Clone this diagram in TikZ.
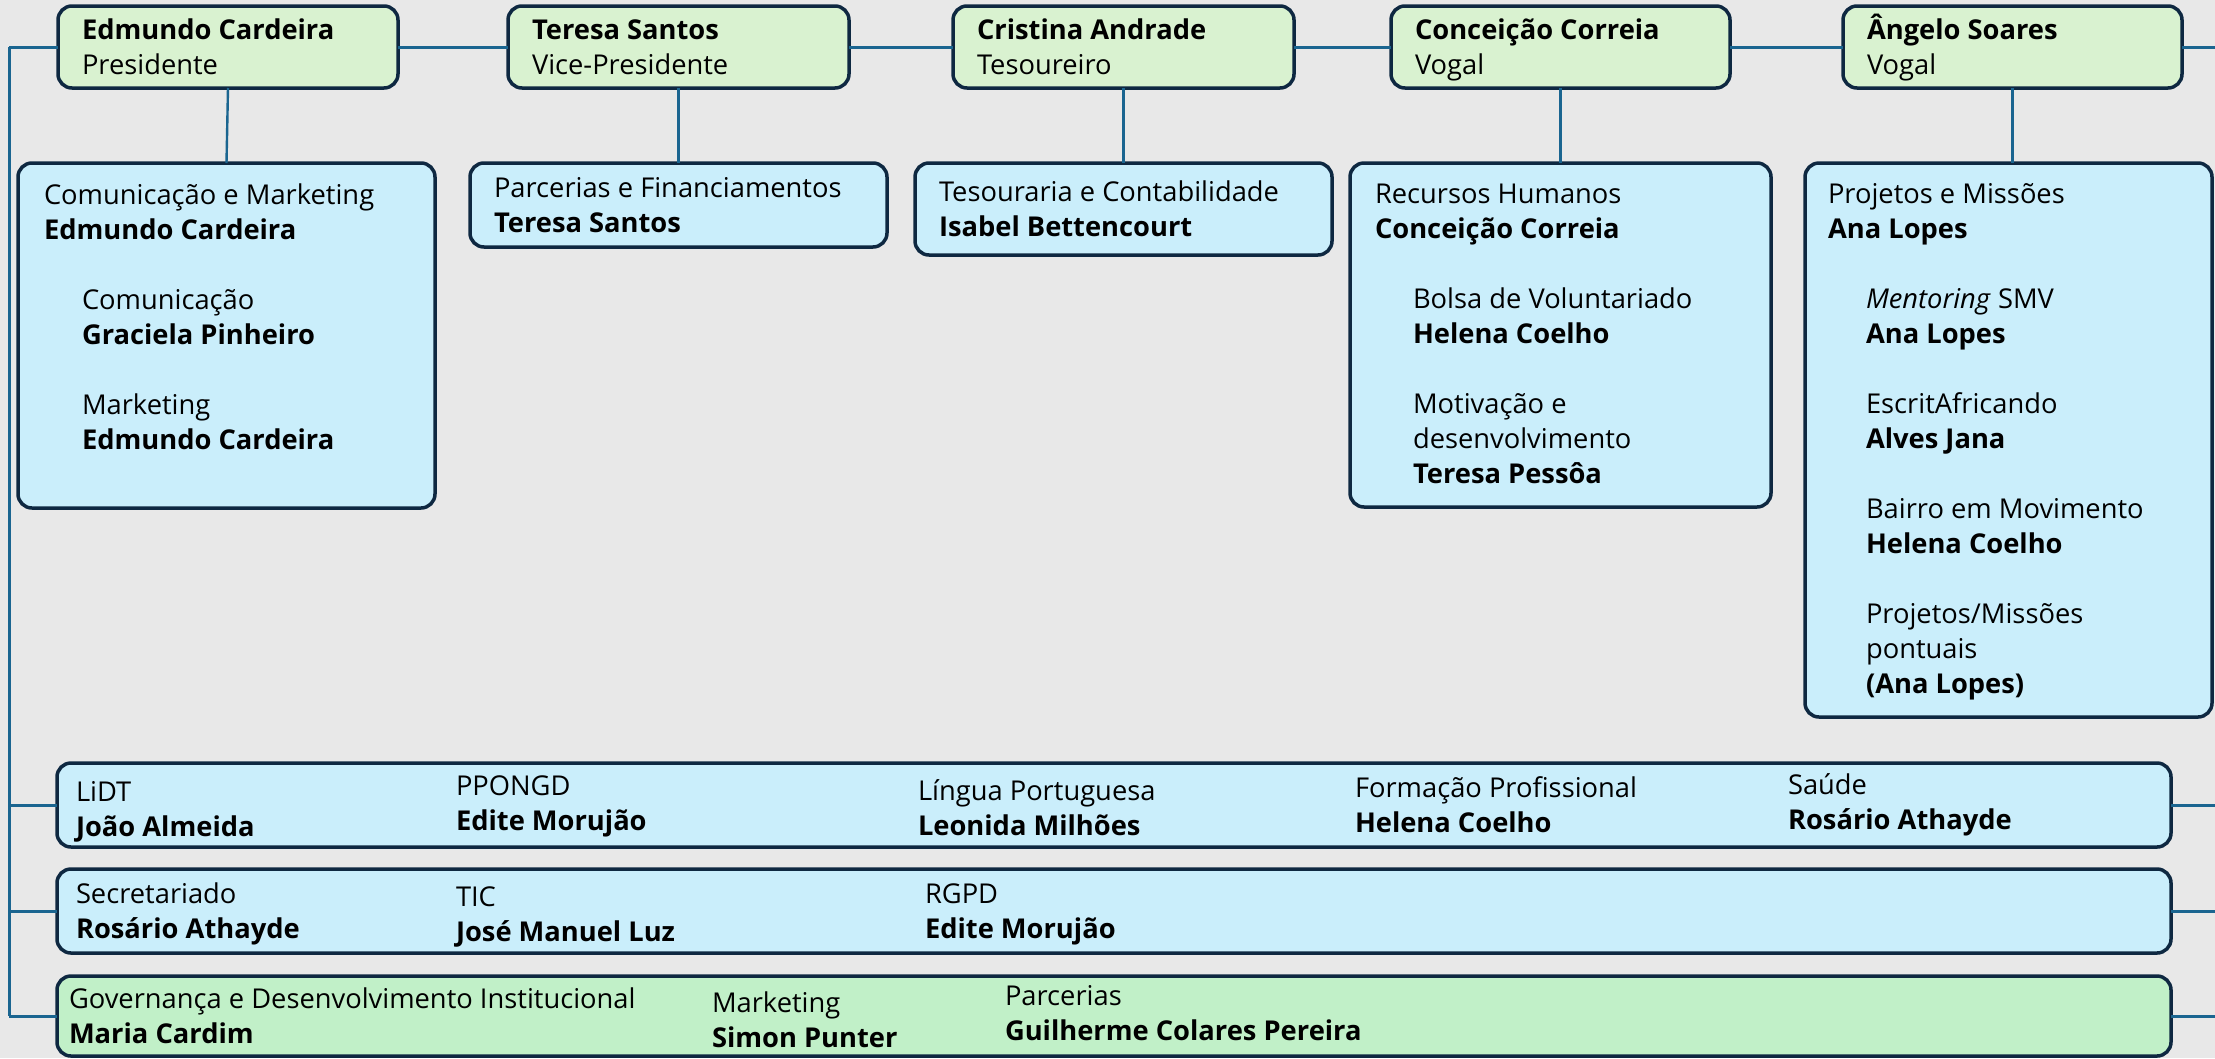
\documentclass[tikz,border=0pt]{standalone}
\usepackage{fontspec}
\setmainfont{Open Sans}[Ligatures=NoCommon]
\definecolor{bgc}{HTML}{E8E8E8}
\definecolor{topg}{HTML}{D9F2D0}
\definecolor{boxb}{HTML}{CAEEFB}
\definecolor{boxg}{HTML}{C1F0C8}
\definecolor{edge}{HTML}{0E2841}
\definecolor{conn}{HTML}{1A6590}
\newcommand{\tblk}[1]{\vtop{\baselineskip=35pt\lineskiplimit=-60pt\lineskip=0pt #1}}
\newcommand{\rl}[1]{\hbox{#1}}
\newcommand{\bl}[1]{\hbox{\bfseries #1}}
\newcommand{\il}[1]{\hbox{\hskip38pt #1}}
\newcommand{\ibl}[1]{\hbox{\hskip38pt\bfseries #1}}
\newcommand{\gp}{\hbox{}}
\tikzset{
  orgbox/.style={draw=edge, line width=3.5pt, rounded corners=14pt, inner sep=0pt, outer sep=0pt, anchor=north west},
  txt/.style={anchor=base west, inner sep=0pt, outer sep=0pt, font=\fontsize{27.3}{35}\selectfont, text=black},
  link/.style={draw=conn, line width=3pt}
}
\begin{document}
\begin{tikzpicture}[x=1pt,y=-1pt]
\useasboundingbox (0,0) rectangle (2215,1058);
\fill[bgc] (0,0) rectangle (2215,1058);
% top row
\node[orgbox, fill=topg, minimum width=340pt, minimum height=82pt] (b1) at (58,6) {};
\node[orgbox, fill=topg, minimum width=341pt, minimum height=82pt] (b2) at (508,6) {};
\node[orgbox, fill=topg, minimum width=341pt, minimum height=82pt] (b3) at (953,6) {};
\node[orgbox, fill=topg, minimum width=339pt, minimum height=82pt] (b4) at (1391,6) {};
\node[orgbox, fill=topg, minimum width=339pt, minimum height=82pt] (b5) at (1843,6) {};
% second row
\node[orgbox, fill=boxb, minimum width=417pt, minimum height=345pt] (s1) at (18,163) {};
\node[orgbox, fill=boxb, minimum width=417pt, minimum height=84pt] (s2) at (470,163) {};
\node[orgbox, fill=boxb, minimum width=417pt, minimum height=92pt] (s3) at (915,163) {};
\node[orgbox, fill=boxb, minimum width=421pt, minimum height=344pt] (s4) at (1350,163) {};
\node[orgbox, fill=boxb, minimum width=407pt, minimum height=554pt] (s5) at (1805,163) {};
% bottom rows
\node[orgbox, fill=boxb, minimum width=2114pt, minimum height=84pt] (ra) at (57,763) {};
\node[orgbox, fill=boxb, minimum width=2114pt, minimum height=84pt] (rb) at (57,869) {};
\node[orgbox, fill=boxg, minimum width=2114pt, minimum height=80pt] (rc) at (57,976) {};
% connectors
\coordinate (tr) at (9,47);
\coordinate (re) at (2216,47);
\draw[link] (tr) -- (b1.west);
\draw[link] (b1.east) -- (b2.west);
\draw[link] (b2.east) -- (b3.west);
\draw[link] (b3.east) -- (b4.west);
\draw[link] (b4.east) -- (b5.west);
\draw[link] (b5.east) -- (re);
\draw[link] (tr) -- (tr |- rc.west);
\draw[link] (tr |- ra.west) -- (ra.west);
\draw[link] (tr |- rb.west) -- (rb.west);
\draw[link] (tr |- rc.west) -- (rc.west);
\draw[link] (ra.east) -- (ra.east -| re);
\draw[link] (rb.east) -- (rb.east -| re);
\draw[link] (rc.east) -- (rc.east -| re);
\draw[link, line width=2.4pt] (b1.south) -- (s1.north);
\draw[link, line width=2.4pt] (b2.south) -- (s2.north);
\draw[link, line width=2.4pt] (b3.south) -- (s3.north);
\draw[link, line width=2.4pt] (b4.south) -- (s4.north);
\draw[link, line width=2.4pt] (b5.south) -- (b5.south |- s5.north);
% top texts
\node[txt] (tb1) at (82,39) {\tblk{\bl{Edmundo Cardeira}\rl{Presidente}}};
\node[txt] (tb2) at (532,39) {\tblk{\bl{Teresa Santos}\rl{Vice-Presidente}}};
\node[txt] (tb3) at (977,39) {\tblk{\bl{Cristina Andrade}\rl{Tesoureiro}}};
\node[txt] (tb4) at (1415,39) {\tblk{\bl{Conceição Correia}\rl{Vogal}}};
\node[txt] (tb5) at (1867,39) {\tblk{\bl{Ângelo Soares}\rl{Vogal}}};
% second row texts
\node[txt] (ts1) at (44,204) {\tblk{\rl{Comunicação e Marketing}\bl{Edmundo Cardeira}\gp\il{Comunicação}\ibl{Graciela Pinheiro}\gp\il{Marketing}\ibl{Edmundo Cardeira}}};
\node[txt] (ts2) at (494,197) {\tblk{\rl{Parcerias e Financiamentos}\bl{Teresa Santos}}};
\node[txt] (ts3) at (939,201) {\tblk{\rl{Tesouraria e Contabilidade}\bl{Isabel Bettencourt}}};
\node[txt] (ts4) at (1375,203) {\tblk{\rl{Recursos Humanos}\bl{Conceição Correia}\gp\il{Bolsa de Voluntariado}\ibl{Helena Coelho}\gp\il{Motivação e}\il{desenvolvimento}\ibl{Teresa Pessôa}}};
\node[txt] (ts5) at (1828,203) {\tblk{\rl{Projetos e Missões}\bl{Ana Lopes}\gp\il{\textit{Mentoring} SMV}\ibl{Ana Lopes}\gp\il{EscritAfricando}\ibl{Alves Jana}\gp\il{Bairro em Movimento}\ibl{Helena Coelho}\gp\il{Projetos/Missões}\il{pontuais}\ibl{(Ana Lopes)}}};
% bottom row texts
\node[txt] (ta1) at (76,801) {\tblk{\rl{LiDT}\bl{João Almeida}}};
\node[txt] (ta2) at (456,795) {\tblk{\rl{PPONGD}\bl{Edite Morujão}}};
\node[txt] (ta3) at (918,800) {\tblk{\rl{Língua Portuguesa}\bl{Leonida Milhões}}};
\node[txt] (ta4) at (1355,797) {\tblk{\rl{Formação Profissional}\bl{Helena Coelho}}};
\node[txt] (ta5) at (1788,794) {\tblk{\rl{Saúde}\bl{Rosário Athayde}}};
\node[txt] (tq1) at (76,903) {\tblk{\rl{Secretariado}\bl{Rosário Athayde}}};
\node[txt] (tq2) at (456,906) {\tblk{\rl{TIC}\bl{José Manuel Luz}}};
\node[txt] (tq3) at (925,903) {\tblk{\rl{RGPD}\bl{Edite Morujão}}};
\node[txt] (tc1) at (69,1008) {\tblk{\rl{Governança e Desenvolvimento Institucional}\bl{Maria Cardim}}};
\node[txt] (tc2) at (712,1012) {\tblk{\rl{Marketing}\bl{Simon Punter}}};
\node[txt] (tc3) at (1005,1005) {\tblk{\rl{Parcerias}\bl{Guilherme Colares Pereira}}};
\end{tikzpicture}
\end{document}
